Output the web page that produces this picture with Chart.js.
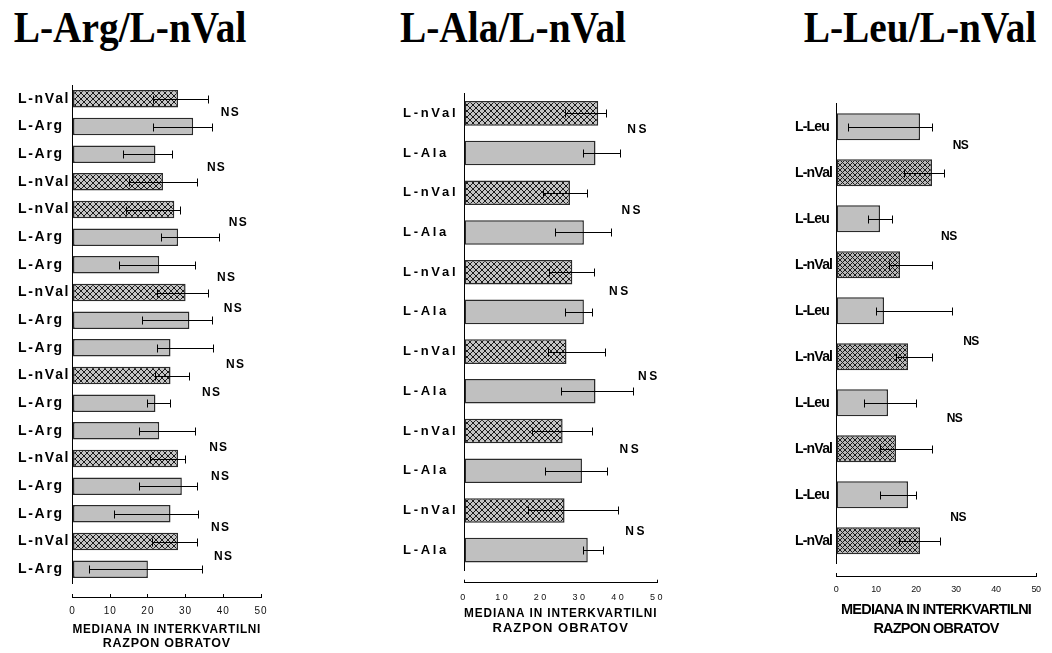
<!DOCTYPE html>
<html><head><meta charset="utf-8">
<script src="https://cdn.jsdelivr.net/npm/chart.js@4.4.0/dist/chart.umd.min.js"></script>
<style>
html,body{margin:0;padding:0;background:#fff;overflow:hidden;width:1052px;height:653px;position:relative}
.title{position:absolute;top:6px;font-family:'Liberation Serif','Times New Roman',serif;font-weight:bold;font-size:44px;line-height:44px;white-space:nowrap;transform:translateX(-50%) scaleX(0.895);color:#000}
.wrap{position:absolute}
canvas{display:block}
</style></head>
<body>
<div class="title" style="left:130px">L-Arg/L-nVal</div>
<div class="title" style="left:513px">L-Ala/L-nVal</div>
<div class="title" style="left:920px">L-Leu/L-nVal</div>
<div class="wrap" style="left:0px;top:60px"><canvas id="c1" width="290" height="593"></canvas></div>
<div class="wrap" style="left:380px;top:60px"><canvas id="c2" width="295" height="576"></canvas></div>
<div class="wrap" style="left:780px;top:60px"><canvas id="c3" width="272" height="578"></canvas></div>
<script>
// ---------- DATA ----------
const axisTitle = ['MEDIANA IN INTERKVARTILNI', 'RAZPON OBRATOV'];
const xTicks = [0, 10, 20, 30, 40, 50];

// Panel 1: L-Arg / L-nVal
const argLabels = ['L-nVal','L-Arg','L-Arg','L-nVal','L-nVal','L-Arg','L-Arg','L-nVal','L-Arg','L-Arg','L-nVal','L-Arg','L-Arg','L-nVal','L-Arg','L-Arg','L-nVal','L-Arg'];
const argMedian = [28, 32, 22, 24, 27, 28, 23, 30, 31, 26, 26, 22, 23, 28, 29, 26, 28, 20];
const argQ1     = [21.4, 21.4, 13.4, 15, 14.3, 23.4, 12.4, 22.3, 18.5, 22.4, 22, 19.8, 17.7, 20.5, 17.7, 11, 21, 4.4];
const argQ3     = [35.9, 36.9, 26.3, 33, 28.5, 38.9, 32.5, 35.9, 36.9, 37.4, 31, 25.9, 32.5, 29.9, 33, 33.4, 33, 34.4];
const argNsX    = [41.9, 38.2, 44.0, 40.9, 42.7, 43.3, 36.9, 38.8, 39.3, 39.3, 40.1];
const argNsY    = [0.51, 2.49, 4.48, 6.48, 7.6, 9.62, 10.63, 12.62, 13.67, 15.51, 16.56];

// Panel 2: L-Ala / L-nVal
const alaLabels = ['L-nVal','L-Ala','L-nVal','L-Ala','L-nVal','L-Ala','L-nVal','L-Ala','L-nVal','L-Ala','L-nVal','L-Ala'];
const alaMedian = [34.7, 34, 27.4, 31, 28, 31, 26.5, 34, 25.5, 30.5, 26, 32];
const alaQ1     = [26, 30.7, 20.4, 23.5, 21.9, 26, 21.8, 25, 17.7, 21, 16.6, 30.7];
const alaQ3     = [36.8, 40.3, 31.9, 38.1, 33.5, 33.2, 36.5, 43.8, 33.1, 37.1, 39.8, 36];
const alaNsX    = [45, 43.5, 40.3, 47.8, 43, 44.5];
const alaNsY    = [0.42, 2.45, 4.49, 6.62, 8.48, 10.54];

// Panel 3: L-Leu / L-nVal
const leuLabels = ['L-Leu','L-nVal','L-Leu','L-nVal','L-Leu','L-nVal','L-Leu','L-nVal','L-Leu','L-nVal'];
const leuMedian = [21, 24, 11, 16, 12, 18, 13, 15, 18, 21];
const leuQ1     = [3, 16.9, 8, 13.2, 10.1, 15, 7, 11, 11, 15.8];
const leuQ3     = [24.1, 27.1, 14, 24.1, 29.1, 24.1, 20, 24.1, 20, 26];
const leuNsX    = [31.1, 28.2, 33.7, 29.6, 30.5];
const leuNsY    = [0.42, 2.4, 4.67, 6.35, 8.5];

// ---------- RENDERING ----------
Chart.defaults.font.family = "'Liberation Sans', Arial, sans-serif";
Chart.defaults.color = '#000';
const SANS = "'Liberation Sans', Arial, sans-serif";

function hatch(size, bg, fg, lw) {
  const c = document.createElement('canvas');
  c.width = c.height = size;
  const g = c.getContext('2d');
  g.fillStyle = bg; g.fillRect(0, 0, size, size);
  g.strokeStyle = fg; g.lineWidth = lw;
  g.beginPath();
  g.moveTo(0, 0); g.lineTo(size, size);
  g.moveTo(size, 0); g.lineTo(0, size);
  g.stroke();
  return g.createPattern(c, 'repeat');
}

function makePanel(id, p) {
  const ctx = document.getElementById(id).getContext('2d');
  const pattern = hatch(p.hatchSize, p.hatchBg, '#1a1a1a', 1);
  const colors = p.labels.map(l => l === 'L-nVal' ? pattern : '#c0c0c0');

  const layoutPlugin = {
    id: 'layoutTweaks',
    afterLayout(chart) {
      const xs = chart.scales.x, ys = chart.scales.y;
      xs.top += p.shift;
      const wrap = (scale, m, ls) => {
        const orig = scale[m];
        scale[m] = function (...a) {
          const c = this.ctx, prev = c.letterSpacing;
          c.letterSpacing = ls;
          orig.apply(this, a);
          c.letterSpacing = prev;
        };
      };
      wrap(ys, 'drawLabels', p.lsLabel);
      wrap(xs, 'drawLabels', p.lsTick);
      wrap(xs, 'drawTitle', p.lsTitle);
    }
  };

  const errPlugin = {
    id: 'errorBars',
    afterDatasetsDraw(chart) {
      const c = chart.ctx, xs = chart.scales.x, ys = chart.scales.y;
      c.save();
      c.strokeStyle = '#000';
      c.lineWidth = 1;
      p.q1.forEach((lo, i) => {
        const yy = Math.round(ys.getPixelForValue(i)) + 0.5;
        const x1 = Math.round(xs.getPixelForValue(lo)) + 0.5;
        const x2 = Math.round(xs.getPixelForValue(p.q3[i])) + 0.5;
        c.beginPath();
        c.moveTo(x1, yy); c.lineTo(x2, yy);
        c.moveTo(x1, yy - 4); c.lineTo(x1, yy + 4);
        c.moveTo(x2, yy - 4); c.lineTo(x2, yy + 4);
        c.stroke();
      });
      c.restore();
    }
  };

  const nsPlugin = {
    id: 'nsLabels',
    afterDatasetsDraw(chart) {
      const c = chart.ctx, xs = chart.scales.x, ys = chart.scales.y;
      c.save();
      c.font = p.nsFont;
      c.letterSpacing = p.lsNs;
      c.fillStyle = '#000';
      c.textAlign = 'center';
      c.textBaseline = 'middle';
      p.nsX.forEach((v, i) => {
        c.fillText('NS', xs.getPixelForValue(v), ys.getPixelForValue(p.nsY[i]));
      });
      c.restore();
    }
  };

  return new Chart(ctx, {
    type: 'bar',
    data: {
      labels: p.labels,
      datasets: [{
        data: p.median,
        backgroundColor: colors,
        borderColor: '#2a2a2a',
        borderWidth: 1.5,
        borderSkipped: false,
        barPercentage: p.barPct,
        categoryPercentage: 1
      }]
    },
    options: {
      indexAxis: 'y',
      responsive: false,
      animation: false,
      devicePixelRatio: 1,
      events: [],
      layout: { padding: p.padding },
      plugins: { legend: { display: false }, tooltip: { enabled: false }, title: { display: false } },
      scales: {
        y: {
          type: 'category',
          afterFit: s => { s.width = p.yWidth; },
          grid: { display: false },
          border: { display: true, color: '#000', width: 1 },
          ticks: {
            autoSkip: false,
            crossAlign: 'far',
            padding: 0,
            color: '#000',
            font: { family: SANS, size: p.labelSize, weight: 'bold' }
          }
        },
        x: {
          type: 'linear',
          min: xTicks[0],
          max: xTicks[xTicks.length - 1],
          afterFit: s => { s.height = p.xHeight; },
          afterBuildTicks: s => { s.ticks = xTicks.map(v => ({ value: v })); },
          grid: {
            display: true,
            drawOnChartArea: false,
            drawTicks: true,
            tickLength: -3,
            color: c => (p.allTicks || c.tick.value === 0 || c.tick.value === 50) ? '#000' : 'rgba(0,0,0,0)'
          },
          border: { display: true, color: '#000', width: 1 },
          ticks: {
            padding: p.tickPad,
            color: '#111',
            maxRotation: 0,
            autoSkip: false,
            font: { family: SANS, size: p.tickSize, weight: 'normal' }
          },
          title: {
            display: true,
            text: axisTitle,
            color: '#000',
            padding: { top: 0, bottom: p.titlePadB },
            font: { family: SANS, size: p.titleSize, weight: 'bold', lineHeight: p.titleLH / p.titleSize }
          }
        }
      }
    },
    plugins: [layoutPlugin, errPlugin, nsPlugin]
  });
}

makePanel('c1', {
  labels: argLabels, median: argMedian, q1: argQ1, q3: argQ3, nsX: argNsX, nsY: argNsY,
  labelSize: 14, tickSize: 10, titleSize: 12.5, titleLH: 14,
  lsLabel: '1.7px', lsTick: '1px', lsTitle: '0.75px', lsNs: '1.3px', nsFont: "bold 12px " + SANS,
  padding: { left: 18, right: 29, top: 25, bottom: 2.5 },
  yWidth: 54.5, xHeight: 67.5, shift: 14, tickPad: 11.7, titlePadB: 0,
  barPct: 0.63, hatchSize: 6, hatchBg: '#c4c4c4', allTicks: true
});

makePanel('c2', {
  labels: alaLabels, median: alaMedian, q1: alaQ1, q3: alaQ3, nsX: alaNsX, nsY: alaNsY,
  labelSize: 13, tickSize: 9, titleSize: 13, titleLH: 15,
  lsLabel: '2.7px', lsTick: '2.5px', lsTitle: '1px', lsNs: '2.5px', nsFont: "bold 12px " + SANS,
  padding: { left: 23, right: 10, top: 33.5, bottom: 0 },
  yWidth: 61, xHeight: 66, shift: 12.7, tickPad: 12.6, titlePadB: 0,
  barPct: 0.62, hatchSize: 6, hatchBg: '#c4c4c4', allTicks: false
});

makePanel('c3', {
  labels: leuLabels, median: leuMedian, q1: leuQ1, q3: leuQ3, nsX: leuNsX, nsY: leuNsY,
  labelSize: 14, tickSize: 9, titleSize: 14.5, titleLH: 18.5,
  lsLabel: '-0.8px', lsTick: '-0.3px', lsTitle: '-0.8px', lsNs: '-0.6px', nsFont: "bold 12px " + SANS,
  padding: { left: 15, right: 4.7, top: 43.7, bottom: 0 },
  yWidth: 41, xHeight: 74.3, shift: 12.3, tickPad: 10.9, titlePadB: 0,
  barPct: 0.59, hatchSize: 5, hatchBg: '#b8b8b8', allTicks: false
});
</script>
</body></html>
